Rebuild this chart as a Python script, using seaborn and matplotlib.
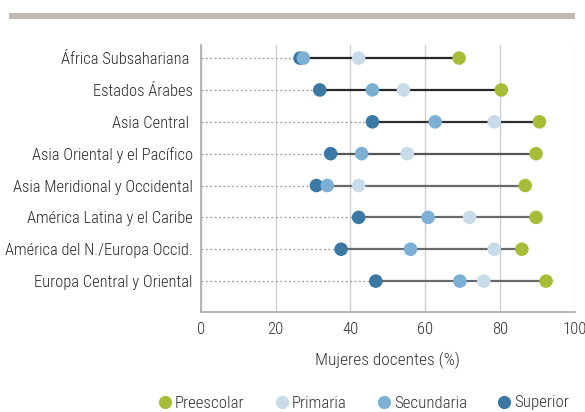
import numpy as np
import pandas as pd
import matplotlib
matplotlib.use("Agg")
import matplotlib.pyplot as plt
import seaborn as sns
from matplotlib.lines import Line2D

regions = ["África Subsahariana ", "Estados Árabes", "Asia Central ",
           "Asia Oriental y el Pacífico", "Asia Meridional y Occidental",
           "América Latina y el Caribe", "América del N./Europa Occid.",
           "Europa Central y Oriental"]
preescolar = [69.1, 80.4, 90.6, 89.7, 86.8, 89.7, 85.9, 92.4]
primaria = [42.2, 54.2, 78.5, 55.2, 42.2, 71.9, 78.5, 75.7]
secundaria = [27.4, 45.9, 62.7, 43.0, 33.8, 60.8, 56.1, 69.3]
superior = [26.5, 31.8, 45.9, 34.7, 30.9, 42.2, 37.5, 46.8]
levels = ["Preescolar", "Primaria", "Secundaria", "Superior"]
xticks = [0, 20, 40, 60, 80, 100]
xlabel = "Mujeres docentes (%)"

colors = {"Preescolar": "#a8bc38", "Primaria": "#c7dbe8",
          "Secundaria": "#7bafd4", "Superior": "#3b78a3"}
range_line_colors = ["#262626", "#262626", "#2e2e2e", "#555555",
                     "#6a6a6a", "#6a6a6a", "#6a6a6a", "#6a6a6a"]

sns.set_theme(style="white")
plt.rcParams["font.family"] = ["Roboto Condensed", "DejaVu Sans"]
plt.rcParams["font.weight"] = "light"
plt.rcParams["axes.labelweight"] = "light"

df = pd.DataFrame({"region": regions, "Preescolar": preescolar, "Primaria": primaria,
                   "Secundaria": secundaria, "Superior": superior})
long = df.melt(id_vars="region", var_name="nivel", value_name="pct")
ypos = {r: i for i, r in enumerate(regions)}
long["y"] = long["region"].map(ypos)

fig = plt.figure(figsize=(5.85, 4.12), dpi=100)
ax = fig.add_axes([0.3436, 0.2427, 0.6385, 0.648])

# top decorative bar
fig.add_artist(plt.Rectangle((9 / 585, 1 - 19 / 412), (575 - 9) / 585, 6 / 412,
                             transform=fig.transFigure, color="#c3bbb3", lw=0))

mins = df[levels].min(axis=1).values
maxs = df[levels].max(axis=1).values
yy = np.arange(len(regions))
ax.hlines(yy, 0, mins, colors="#9a9a9a", linestyles=(0, (1.5, 2)), lw=0.9, zorder=1)
ax.hlines(yy, mins, maxs, colors=range_line_colors, lw=1.6, zorder=2)

order = ["Superior", "Secundaria", "Primaria", "Preescolar"]
for lv in order:
    sub = long[long["nivel"] == lv]
    sns.scatterplot(data=sub, x="pct", y="y", color=colors[lv], s=95,
                    edgecolor="none", ax=ax, zorder=3, legend=False)

# fit font size so that the widest label matches the reference width (~181 px)
renderer = fig.canvas.get_renderer()
probe = fig.text(0, 0, "Asia Meridional y Occidental", fontsize=10)
w = probe.get_window_extent(renderer).width
probe.remove()
fs = 10 * 181.0 / w

ax.set_xlim(0, 100)
ax.set_ylim(7.97, -0.41)
ax.set_yticks(yy)
ax.set_yticklabels(regions, fontsize=fs, color="#2a2a2a")
ax.set_xticks(xticks)
ax.set_xticklabels([str(t) for t in xticks], fontsize=fs, color="#333333")
ax.set_xlabel(xlabel, fontsize=fs * 1.05, color="#333333", labelpad=11,
              fontweight="light")
ax.set_ylabel("")
ax.tick_params(axis="y", length=0, pad=6)
ax.tick_params(axis="x", length=0, pad=7)
ax.grid(axis="x", color="#cfcfcf", lw=1)
ax.grid(axis="y", visible=False)
for s in ["top", "right"]:
    ax.spines[s].set_visible(False)
for s in ["left", "bottom"]:
    ax.spines[s].set_color("#aaaaaa")
    ax.spines[s].set_linewidth(1.2)
ax.set_facecolor("white")

handles = [Line2D([0], [0], marker="o", color="none", markerfacecolor=colors[l],
                  markeredgecolor="none", markersize=9.5) for l in levels]
fig.legend(handles, levels, loc="center left", bbox_to_anchor=(158 / 585, 1 - 403 / 412), ncol=4,
           frameon=False, fontsize=fs * 1.02, handletextpad=0.15, columnspacing=1.8,
           handlelength=0.85, labelcolor="#333333", borderpad=0, borderaxespad=0)

fig.savefig("out.png", dpi=100, facecolor="white")
